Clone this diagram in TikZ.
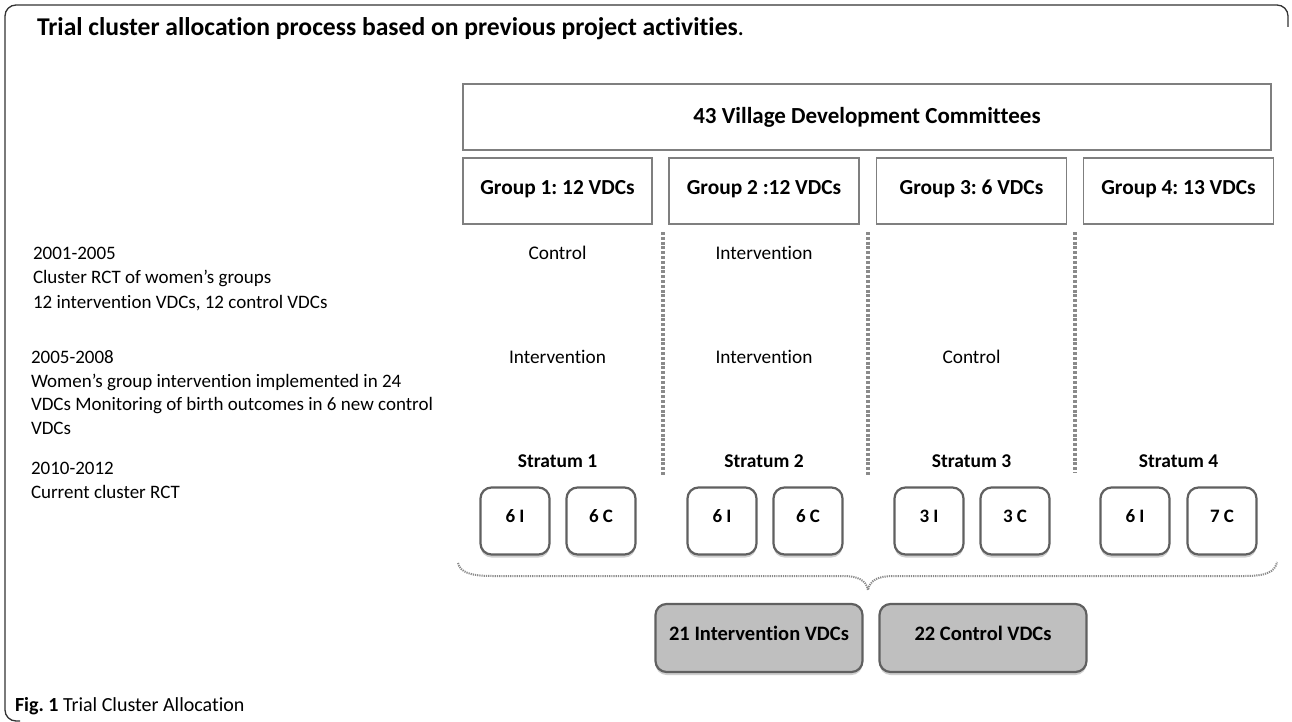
\documentclass[tikz,border=0pt]{standalone}
\usepackage{fontspec}
\setmainfont{Carlito}[Ligatures=NoCommon]
\usetikzlibrary{shadows}
\definecolor{boxline}{HTML}{7F7F7F}
\definecolor{rline}{HTML}{606060}
\definecolor{dotc}{HTML}{8A8A8A}
\definecolor{fillg}{HTML}{BFBFBF}
\definecolor{shadowc}{HTML}{CFCFCF}
\definecolor{framec}{HTML}{333333}
\begin{document}
\frenchspacing
\begin{tikzpicture}[x=1pt,y=-1pt,
  every node/.style={inner sep=0pt, outer sep=0pt},
  titletxt/.style={font=\fontsize{25.6}{30}\selectfont\bfseries, anchor=base west},
  lefttxt/.style={font=\fontsize{19}{23}\selectfont, anchor=base west},
  coltxt/.style={font=\fontsize{19.3}{23}\selectfont, anchor=base},
  strtxt/.style={font=\fontsize{19.5}{23}\selectfont\bfseries, anchor=base},
  bigbox/.style={draw=boxline, line width=1.6pt, fill=white},
  toptxt/.style={font=\fontsize{23}{27}\selectfont\bfseries},
  grptxt/.style={font=\fontsize{21.4}{25}\selectfont\bfseries},
  smallbox/.style={draw=rline, line width=2.2pt, fill=white, rounded corners=11pt,
     minimum width=69pt, minimum height=67pt,
     drop shadow={shadow xshift=0pt, shadow yshift=-3pt, fill=shadowc, opacity=1}},
  smalltxt/.style={font=\fontsize{19}{22}\selectfont\bfseries},
  resbox/.style={draw=rline, line width=2.2pt, fill=fillg, rounded corners=11pt,
     minimum width=207pt, minimum height=68pt,
     drop shadow={shadow xshift=0pt, shadow yshift=-3pt, fill=shadowc, opacity=1}},
  restxt/.style={font=\fontsize{20.5}{24}\selectfont\bfseries},
  divider/.style={draw=dotc, line width=3.2pt, dash pattern=on 3pt off 1.8pt},
  bracestyle/.style={draw=dotc, line width=2pt, dash pattern=on 1.2pt off 1pt},
  framestyle/.style={draw=framec, line width=1.3pt, rounded corners=11pt},
  captxt/.style={font=\fontsize{20}{24}\selectfont, anchor=base west}
]
\useasboundingbox (0,0) rectangle (1292,722);
\fill[white] (0,0) rectangle (1292,722);

% frame
\draw[framestyle] (1288,27) -- (1288,5) -- (5,5) -- (5,721) -- (20,721);

% title
\node[titletxt] (title) at (37,36) {Trial cluster allocation process based on previous project activities\textmd{.}};

% top boxes
\node[bigbox, minimum width=808pt, minimum height=66pt] (vdc) at (867,117) {};
\node[toptxt] (vdct) at (867,117) {43 Village Development Committees};
\node[bigbox, minimum width=189pt, minimum height=66pt] (g1) at (557.5,191) {};
\node[bigbox, minimum width=190pt, minimum height=66pt] (g2) at (764,191) {};
\node[bigbox, minimum width=190pt, minimum height=66pt] (g3) at (971.5,191) {};
\node[bigbox, minimum width=190pt, minimum height=66pt] (g4) at (1178.5,191) {};
\node[grptxt] (g1t) at ([yshift=2pt]g1.center) {Group 1: 12 VDCs};
\node[grptxt] (g2t) at ([yshift=2pt]g2.center) {Group 2 :12 VDCs};
\node[grptxt] (g3t) at ([yshift=2pt]g3.center) {Group 3: 6 VDCs};
\node[grptxt] (g4t) at ([yshift=2pt]g4.center) {Group 4: 13 VDCs};

% left texts
\node[lefttxt] (l1) at (33,259) {2001-2005};
\node[lefttxt] (l2) at (33,283.5) {Cluster RCT of women’s groups};
\node[lefttxt] (l3) at (33,308) {12 intervention VDCs, 12 control VDCs};
\node[lefttxt] (l4) at (31,363) {2005-2008};
\node[lefttxt] (l5) at (31,387) {Women’s group intervention implemented in 24};
\node[lefttxt] (l6) at (31,410.5) {VDCs Monitoring of birth outcomes in 6 new control};
\node[lefttxt] (l7) at (31,434) {VDCs};
\node[lefttxt] (l8) at (31,474) {2010-2012};
\node[lefttxt] (l9) at (31,498) {Current cluster RCT};

% column texts
\node[coltxt] (c11) at (557.5,259) {Control};
\node[coltxt] (c12) at (764,259) {Intervention};
\node[coltxt] (c21) at (557.5,363) {Intervention};
\node[coltxt] (c22) at (764,363) {Intervention};
\node[coltxt] (c23) at (971.5,363) {Control};

% dividers
\coordinate (d1a) at (663,232); \coordinate (d1b) at (663,475);
\coordinate (d2a) at (868,232); \coordinate (d2b) at (868,475);
\coordinate (d3a) at (1075,232); \coordinate (d3b) at (1075,473);
\draw[divider] (d1a) -- (d1b);
\draw[divider] (d2a) -- (d2b);
\draw[divider] (d3a) -- (d3b);

% strata
\node[strtxt] (st1) at (557.5,467) {Stratum 1};
\node[strtxt] (st2) at (764,467) {Stratum 2};
\node[strtxt] (st3) at (971.5,467) {Stratum 3};
\node[strtxt] (st4) at (1178.5,467) {Stratum 4};

% small boxes
\node[smallbox] (s1) at (515,521) {};
\node[smallbox] (s2) at (601,521) {};
\node[smallbox] (s3) at (722,521) {};
\node[smallbox] (s4) at (808,521) {};
\node[smallbox] (s5) at (929,521) {};
\node[smallbox] (s6) at (1015,521) {};
\node[smallbox] (s7) at (1135,521) {};
\node[smallbox] (s8) at (1222,521) {};
\node[smalltxt] (s1t) at ([yshift=5pt]s1.center) {6\hspace{4pt}I};
\node[smalltxt] (s2t) at ([yshift=5pt]s2.center) {6\hspace{4pt}C};
\node[smalltxt] (s3t) at ([yshift=5pt]s3.center) {6\hspace{4pt}I};
\node[smalltxt] (s4t) at ([yshift=5pt]s4.center) {6\hspace{4pt}C};
\node[smalltxt] (s5t) at ([yshift=5pt]s5.center) {3\hspace{4pt}I};
\node[smalltxt] (s6t) at ([yshift=5pt]s6.center) {3\hspace{4pt}C};
\node[smalltxt] (s7t) at ([yshift=5pt]s7.center) {6\hspace{4pt}I};
\node[smalltxt] (s8t) at ([yshift=5pt]s8.center) {7\hspace{4pt}C};

% brace
\coordinate (bl) at (458,563);
\coordinate (bt) at (868,590);
\coordinate (br) at (1277,562);
\draw[bracestyle] (bl) .. controls (460,572) and (470,576) .. (492,576)
   -- (842,576) .. controls (858,576) and (866,580) .. (bt)
   .. controls (870,580) and (878,576) .. (894,576)
   -- (1245,576) .. controls (1266,576) and (1275,572) .. (br);

% result boxes
\node[resbox] (r1) at (759,638) {};
\node[resbox] (r2) at (983,638) {};
\node[restxt] (r1t) at ([yshift=5pt]r1.center) {21 Intervention VDCs};
\node[restxt] (r2t) at ([yshift=5pt]r2.center) {22 Control VDCs};

% caption
\node[captxt] (cap) at (15,711) {\textbf{Fig. 1} Trial Cluster Allocation};
\end{tikzpicture}
\end{document}
